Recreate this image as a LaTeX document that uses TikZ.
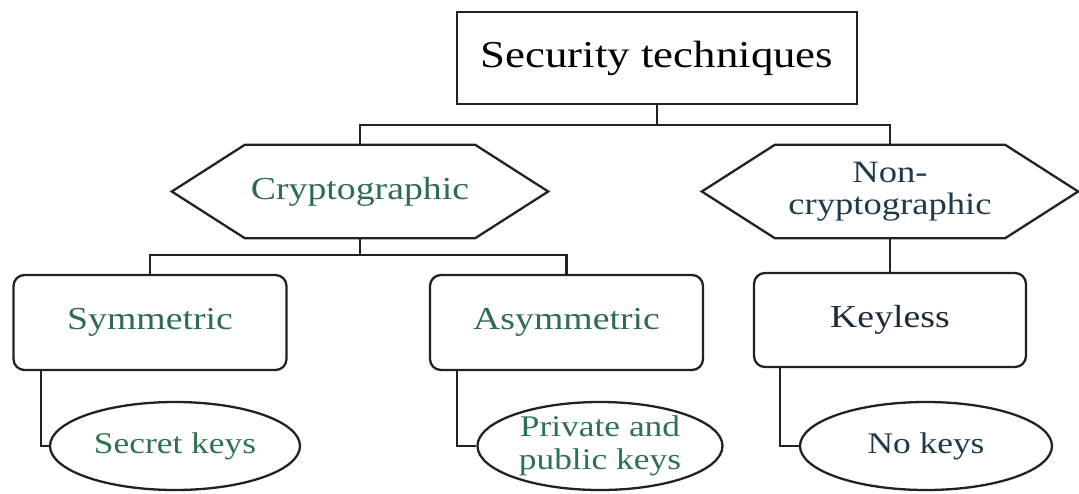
\documentclass[tikz,border=0pt]{standalone}
\usepackage{fontspec}
\setmainfont[FakeStretch=1.18]{Liberation Serif}
\usetikzlibrary{calc,shapes.geometric}

\definecolor{lineclr}{HTML}{222222}
\definecolor{greentxt}{HTML}{2F6A52}
\definecolor{leaftxt}{HTML}{2E7350}
\definecolor{bluetxt}{HTML}{1F3A4A}
\definecolor{navytxt}{HTML}{1B2B38}

\tikzset{
  link/.style={draw=lineclr, line width=2.1pt},
  rootbox/.style={draw=lineclr, line width=2.3pt, minimum width=400pt, minimum height=92pt,
    inner sep=0pt, font=\fontsize{38}{40}\selectfont, text=black},
  hexcore/.style={minimum width=230pt, minimum height=93pt, inner sep=0pt,
    align=center, font=\fontsize{31}{32}\selectfont},
  keybox/.style={draw=lineclr, line width=2.3pt, rounded corners=11pt, minimum width=273pt,
    minimum height=95pt, inner sep=0pt, font=\fontsize{32}{34}\selectfont},
  leaf/.style={draw=lineclr, line width=2.3pt, ellipse, minimum width=250pt, minimum height=88pt,
    inner sep=0pt, align=center, font=\fontsize{30}{33}\selectfont},
}

% draws the six-sided outline around a hexcore node
\newcommand{\hexoutline}[2]{%
  \draw[link, line width=2.3pt, line join=miter] (#1.north west) -- (#1.north east) -- ($(#1.east)+(#2,0)$)
    -- (#1.south east) -- (#1.south west) -- ($(#1.west)+(-#2,0)$) -- cycle;}

\begin{document}
\begin{tikzpicture}[x=1pt, y=-1pt]
  \useasboundingbox (0,0) rectangle (1079,493);

  % root
  \node[rootbox] (root) at (657,58) {Security techniques};

  % second level
  \node[hexcore, text=greentxt, font=\fontsize{32}{34}\selectfont] (crypt) at (360,191.5) {Cryptographic};
  \hexoutline{crypt}{73}
  \node[hexcore, text=bluetxt] (noncrypt) at (890,191.5) {Non-\\cryptographic};
  \hexoutline{noncrypt}{73}

  % third level
  \node[keybox, text=greentxt] (sym) at (150,322.5) {Symmetric};
  \node[keybox, text=greentxt] (asym) at (566.5,322.5) {Asymmetric};
  \node[keybox, text=navytxt, minimum width=272pt, minimum height=94pt] (keyless) at (890,320) {Keyless};

  % key types
  \node[leaf, text=leaftxt] (secret) at (175,446) {Secret keys};
  \node[leaf, text=leaftxt, minimum width=245pt] (pubpriv) at (600,446) {Private and\\public keys};
  \node[leaf, text=bluetxt, minimum width=252pt] (nokeys) at (926,446) {No keys};

  % connectors
  \draw[link] (root.south) -- ++(0,20) -| (crypt.north);
  \draw[link] (root.south) -- ++(0,20) -| (noncrypt.north);
  \draw[link] (crypt.south) -- ++(0,17) -| (sym.north);
  \draw[link] (crypt.south) -- ++(0,17) -| (asym.north);
  \draw[link] (noncrypt.south) -- (keyless.north);
  \draw[link] ([xshift=29pt]sym.south west) |- (secret.west);
  \draw[link] ([xshift=28pt]asym.south west) |- (pubpriv.west);
  \draw[link] ([xshift=27pt]keyless.south west) |- (nokeys.west);
\end{tikzpicture}
\end{document}
